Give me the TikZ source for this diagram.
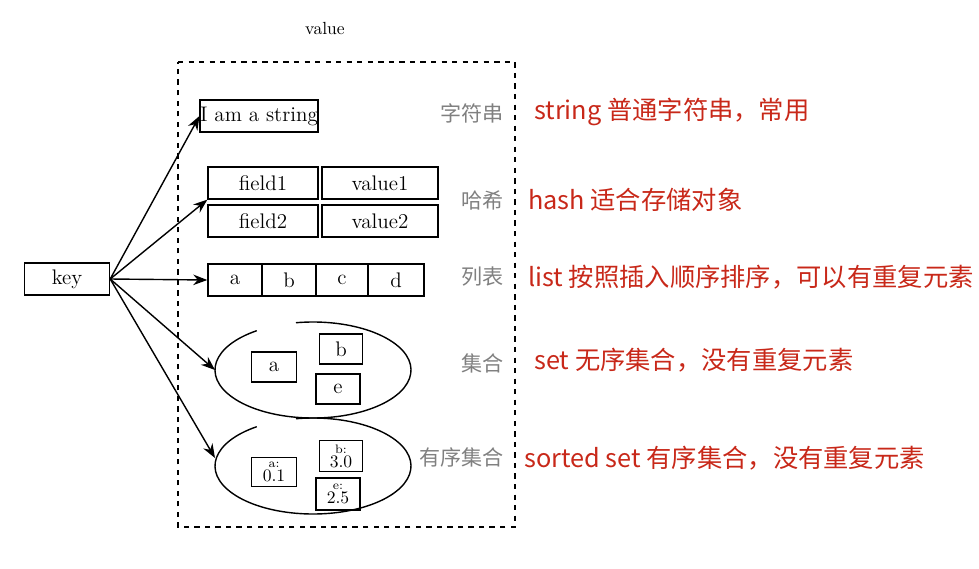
\documentclass[tikz,border=0pt]{standalone}
\usepackage{fontspec}
\usetikzlibrary{arrows.meta}
\newfontfamily\cjk{Noto Sans CJK SC}
\definecolor{redtxt}{RGB}{200,40,25}
\begin{document}
\begin{tikzpicture}[x=0.02cm,y=-0.02cm,
  cell/.style={draw,thick,minimum width=#1*0.02cm,minimum height=0.64cm,inner sep=0pt,font=\large},
  cell/.default=54,
  score/.style={align=center,font=\normalsize,inner sep=0pt},
  kind/.style={anchor=east,text=gray,font=\cjk\large},
  note/.style={anchor=west,text=redtxt,font=\cjk\Large},
  link/.style={-{Stealth[length=8pt]},thick}]
\useasboundingbox (0,0) rectangle (979,568);
\node at (325,28) {value};
\draw[dashed,thick] (178,62) -- (515,62) -- (515,527) -- (178,527) -- cycle;
\node[cell=85] (key) at (67,279) {key};
\node[cell=113] (str) at (259,116) {I am a string};
\node[cell=110] (f1) at (263,183) {field1};
\node[cell=116] (v1) at (380,183) {value1};
\node[cell=110] (f2) at (263,221) {field2};
\node[cell=116] (v2) at (380,221) {value2};
\node[cell] (la) at (235,280) {a};
\node[cell] (lb) at (289,280) {b};
\node[cell=52] (lc) at (342,280) {c};
\node[cell=56] (ld) at (396,280) {d};
\node[cell=45,minimum height=0.6cm] (sa) at (274,367) {a};
\node[cell=43,minimum height=0.6cm] (sb) at (341,349) {b};
\node[cell=44,minimum height=0.6cm] (se) at (338,389) {e};
\node[cell=45,minimum height=0.58cm,score] (za) at (274,472) {{\scriptsize a:}\\[-4pt]0.1};
\node[cell=43,minimum height=0.62cm,score] (zb) at (341,456) {{\scriptsize b:}\\[-4pt]3.0};
\node[cell=44,minimum height=0.64cm,score] (ze) at (338,494) {{\scriptsize e:}\\[-4pt]2.5};
\draw[thick] ([shift={(235:98 and 48)}]313,370) arc[start angle=235,end angle=-100,x radius=98,y radius=48];
\draw[thick] ([shift={(235:98 and 48)}]313,466) arc[start angle=235,end angle=-100,x radius=98,y radius=48];
\coordinate (setin) at (215,370);
\coordinate (zsetin) at (215,458);
\draw[link] (key.east) -- (str.west);
\draw[link] (key.east) -- (f1.south west);
\draw[link] (key.east) -- (la.west);
\draw[link] (key.east) -- (setin);
\draw[link] (key.east) -- (zsetin);
\node[kind] at (510,113) {字符串};
\node[kind] at (510,200) {哈希};
\node[kind] at (510,277) {列表};
\node[kind] at (510,363) {集合};
\node[kind] at (510,457) {有序集合};
\node[note] at (528,112) {string 普通字符串，常用};
\node[note] at (522,200) {hash 适合存储对象};
\node[note] at (522,277) {list 按照插入顺序排序，可以有重复元素};
\node[note] at (528,360) {set 无序集合，没有重复元素};
\node[note] at (518,458) {sorted set 有序集合，没有重复元素};
\end{tikzpicture}
\end{document}
